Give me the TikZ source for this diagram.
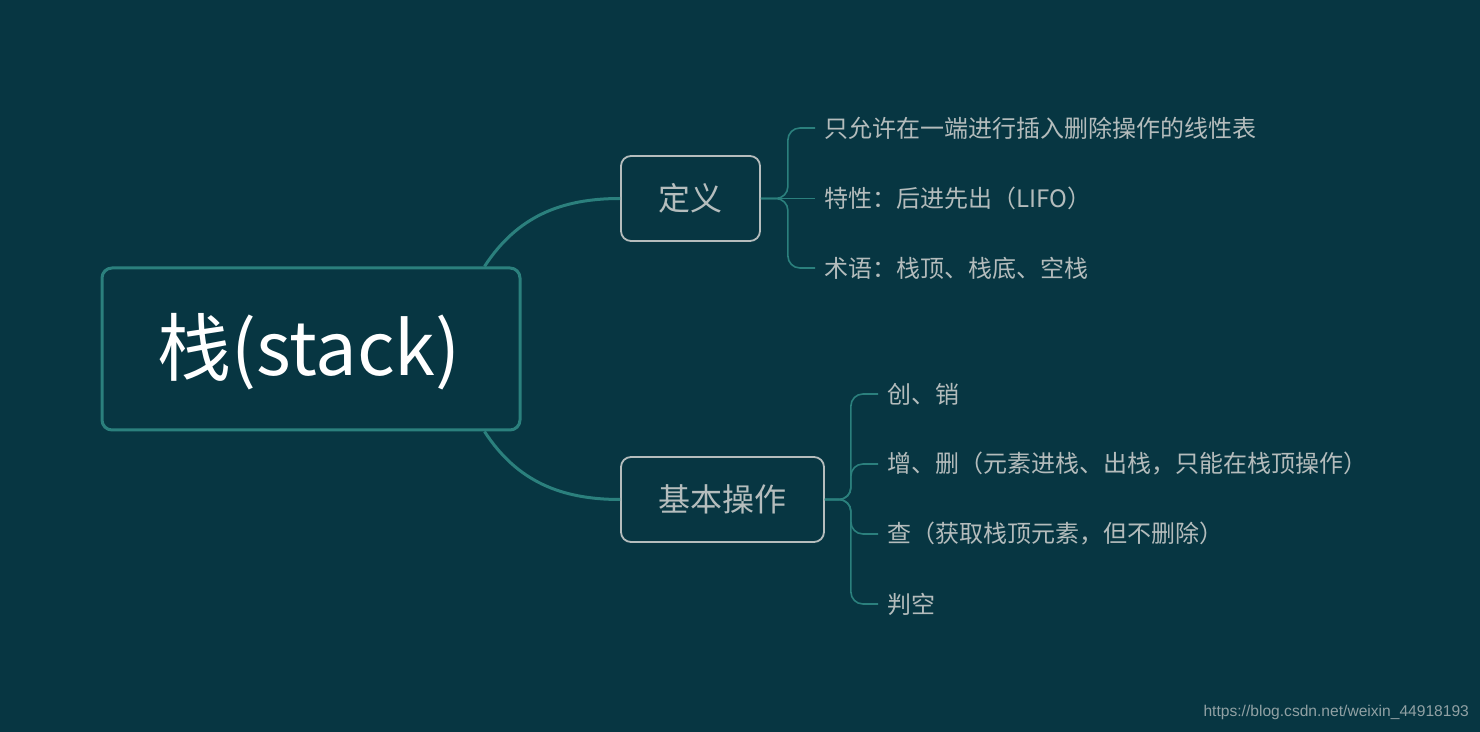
\documentclass[tikz,border=0pt]{standalone}
\usepackage{fontspec}
\setmainfont{Noto Sans CJK SC}
\newfontfamily\markfont{Liberation Sans}
\usepackage{xcolor}
\definecolor{bgcol}{HTML}{073642}
\definecolor{teal}{HTML}{2B807D}
\definecolor{boxgray}{HTML}{B5BDBD}
\definecolor{leafgray}{HTML}{B4BCBC}

\begin{document}
\begin{tikzpicture}[
    x=0.5pt, y=-0.5pt,
    rootbox/.style={draw=teal, line width=1.5pt, rounded corners=5pt, minimum width=209pt,
                minimum height=81pt, align=center, text=white, font=\fontsize{37}{40}\selectfont},
    subbox/.style={draw=boxgray, line width=0.9pt, rounded corners=5pt,
                minimum height=42.5pt, text=boxgray, font=\fontsize{16}{18}\selectfont},
    leaf/.style={anchor=west, inner xsep=4.5pt, text=leafgray, font=\fontsize{12}{14}\selectfont},
    trunk/.style={draw=teal, line width=1.5pt},
    twig/.style={draw=teal, line width=0.8pt, rounded corners=6pt}
  ]
    \fill[bgcol] (0,0) rectangle (1480,732);
    \useasboundingbox (0,0) rectangle (1480,732);

    \node[rootbox] (root) at (311,349) {};
    \node[text=white, font=\fontsize{37}{40}\selectfont] (roottext) at (309,352) {栈(stack)};
    \node[subbox, minimum width=69.5pt] (dy) at (690.5,198.5) {定义};
    \node[subbox, minimum width=101.5pt] (jb) at (722.5,499.5) {基本操作};

    \draw[trunk] ([xshift=-18.5pt]root.north east) to[out=57,in=180] (dy.west);
    \draw[trunk] ([xshift=-18.5pt]root.south east) to[out=-57,in=180] (jb.west);

    % definition leaves
    \node[leaf] (d1) at (815,128) {只允许在一端进行插入删除操作的线性表};
    \node[leaf] (d2) at (815,198.5) {特性：后进先出（LIFO）};
    \node[leaf] (d3) at (815,268) {术语：栈顶、栈底、空栈};
    \draw[twig] (dy.east) -- ++(27,0) |- (d1.west);
    \draw[twig] (dy.east) -- (d2.west);
    \draw[twig] (dy.east) -- ++(27,0) |- (d3.west);

    % operation leaves
    \node[leaf] (b1) at (878,394) {创、销};
    \node[leaf] (b2) at (878,464) {增、删（元素进栈、出栈，只能在栈顶操作）};
    \node[leaf] (b3) at (878,534) {查（获取栈顶元素，但不删除）};
    \node[leaf] (b4) at (878,604) {判空};
    \foreach \b in {b1,b2,b3,b4}
      \draw[twig] (jb.east) -- ++(26,0) |- (\b.west);

    \node[anchor=east, text=leafgray!80!bgcol, font=\markfont\fontsize{7.8}{10}\selectfont]
      (mark) at (1476,712) {https://blog.csdn.net/weixin\_44918193};
  \end{tikzpicture}
\end{document}
